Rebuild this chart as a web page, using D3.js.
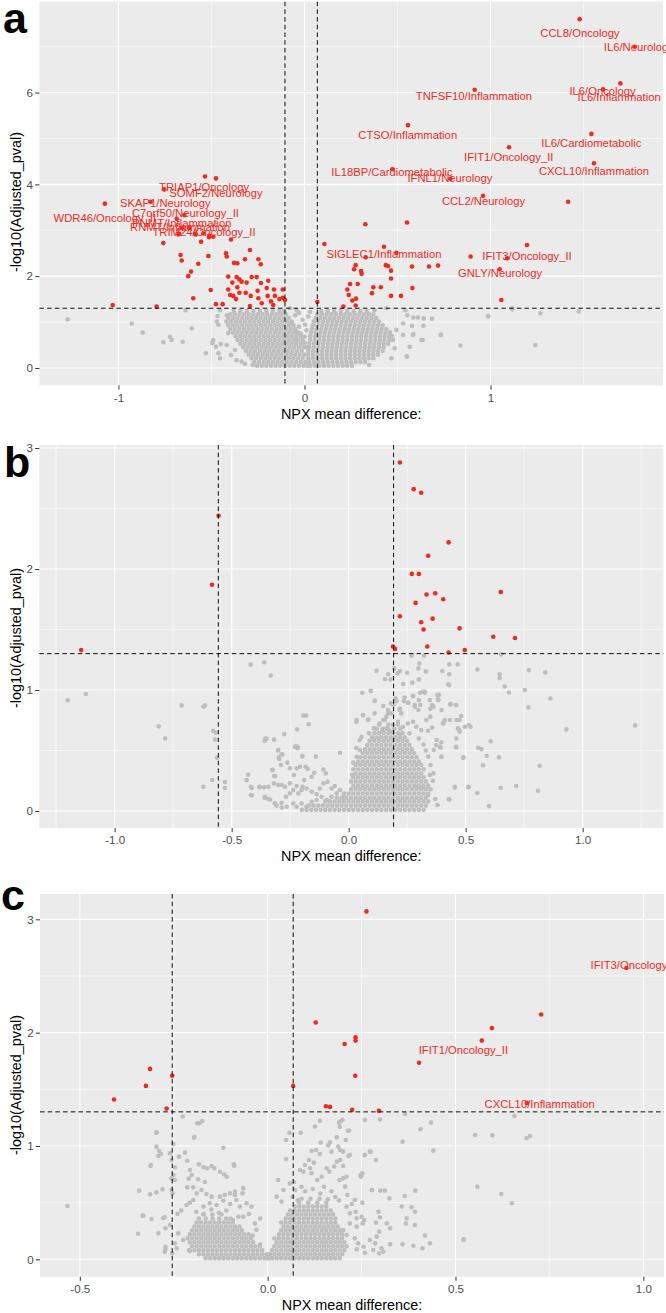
<!DOCTYPE html>
<html><head><meta charset="utf-8">
<script src="https://cdn.jsdelivr.net/npm/d3@7"></script>
<style>
body{margin:0;background:#fff}
svg{display:block}
text{font-family:"Liberation Sans",Arial,Helvetica,sans-serif}
</style></head>
<body><svg id="chart" width="666" height="1313"></svg>
<script>
// ---------------- DATA ----------------
const hThreshold = 1.301;
const vLinesA = [-0.105, 0.069];
const vLinesB = [-0.557, 0.192];
const vLinesC = [-0.254, 0.068];

const xTicksA = [-1, 0, 1], xTickLabelsA = ["-1", "0", "1"], xMinorA = [-0.5, 0.5, 1.5];
const yTicksA = [0, 2, 4, 6], yMinorA = [1, 3, 5, 7];
const xTicksB = [-1, -0.5, 0, 0.5, 1], xTickLabelsB = ["-1.0", "-0.5", "0.0", "0.5", "1.0"], xMinorB = [-1.25, -0.75, -0.25, 0.25, 0.75, 1.25];
const yTicksB = [0, 1, 2, 3], yMinorB = [0.5, 1.5, 2.5];
const xTicksC = [-0.5, 0, 0.5, 1], xTickLabelsC = ["-0.5", "0.0", "0.5", "1.0"], xMinorC = [-0.25, 0.25, 0.75];
const yTicksC = [0, 1, 2, 3], yMinorC = [0.5, 1.5, 2.5];

const xTitle = "NPX mean difference:";
const yTitle = "-log10(Adjusted_pval)";

// Panel a: significant (red) points [x, y]
const redA = [
[1.479,7.60],[1.775,7.0],[1.698,6.20],[1.605,6.07],[0.915,6.06],[0.556,5.29],[1.542,5.10],[1.099,4.81],[1.556,4.46],[0.472,4.33],[0.784,4.12],[0.96,3.75],[1.417,3.62],
[0.551,3.17],[0.327,3.13],[1.196,2.68],[0.427,2.64],[0.494,2.51],[0.329,2.41],[0.893,2.43],[1.089,2.39],[1.049,2.15],[1.058,1.48],[0.578,2.21],[0.669,2.21],[0.718,2.23],
[0.107,2.70],[0.275,2.24],[0.266,2.15],[0.304,2.11],[0.307,2.05],[0.437,2.24],[0.449,2.22],[0.465,2.12],[0.465,1.95],[0.245,1.83],[0.23,1.71],[0.286,1.83],[0.238,1.59],
[0.257,1.47],[0.277,1.51],[0.275,1.36],[0.209,1.34],[0.069,1.44],[0.37,1.76],[0.363,1.63],[0.41,1.76],[0.465,1.57],[0.519,1.57],[0.58,1.74],
[-0.535,4.17],[-0.476,4.13],[-0.754,3.89],[-1.073,3.58],[-0.827,3.62],[-0.687,3.25],[-0.646,3.33],[-0.759,2.72],[-0.675,2.93],[-0.589,2.93],[-0.544,2.93],[-0.556,2.75],
[-0.513,2.85],[-0.49,2.86],[-0.395,2.80],[-0.293,2.57],[-0.666,2.46],[-0.66,2.34],[-0.517,2.44],[-0.422,2.50],[-0.418,2.43],[-0.379,2.29],[-0.361,2.28],[-0.32,2.37],
[-0.248,2.37],[-0.235,2.26],[-0.571,2.27],[-0.61,2.10],[-0.625,2.0],[-0.41,1.99],[-0.365,1.98],[-0.35,1.93],[-0.338,1.88],[-0.311,1.86],[-0.284,1.98],[-0.257,1.98],
[-0.195,1.90],[-0.234,1.85],[-0.388,1.86],[-0.41,1.71],[-0.361,1.76],[-0.40,1.59],[-0.383,1.57],[-0.368,1.50],[-0.35,1.64],[-0.316,1.64],[-0.289,1.57],[-0.252,1.68],
[-0.203,1.74],[-0.164,1.71],[-0.117,1.71],[-0.248,1.52],[-0.198,1.57],[-0.159,1.57],[-0.135,1.50],[-0.117,1.53],[-0.105,1.48],[-0.18,1.45],[-0.23,1.41],[-0.168,1.37],
[-0.293,1.35],[-0.44,1.39],[-0.476,1.39],[-0.504,1.70],[-0.598,1.52],[-0.795,1.34],[-1.031,1.37],[-0.678,2.91],[-0.585,2.91],[-0.512,2.88],[-0.659,3.05],[-0.62,3.05]
];
// Panel a: grey scattered points
const greyA = [
[-1.273,1.06],[-0.929,0.97],[-0.87,0.77],[-0.759,0.56],[-0.714,0.61],[-0.723,0.68],[-0.655,0.57],[-0.639,1.26],[-0.606,0.86],[-0.53,0.32],[-0.49,0.61],[-0.463,0.32],
[-0.454,0.21],[-0.476,0.46],[-0.496,0.54],[-0.467,1.13],[-0.463,0.94],[-0.472,1.01],[-0.454,1.26],[-0.418,1.15],[-0.41,0.76],[-0.418,0.50],[-0.395,0.28],[-0.374,0.39],
[-0.338,0.14],[-0.32,0.09],[-0.279,0.065],[-0.365,0.17],[-0.45,0.52],
[0.987,1.13],[1.116,1.30],[1.268,1.19],[1.474,1.23],[0.838,0.49],[1.241,0.50],[0.732,0.72],[0.685,1.07],[0.628,0.61],[0.566,0.46],[0.551,0.25],[0.583,0.72],[0.578,0.92],
[0.61,1.10],[0.641,1.08],[0.53,0.97],[0.53,0.72],[0.494,0.83],[0.476,0.61],[0.485,0.43],[0.467,0.21],[0.347,0.065],[0.44,1.30],[0.377,1.26],[0.542,1.26],[0.553,1.15],
[0.585,1.10],[0.639,0.92],[0.734,0.72],[0.585,0.74],[0.635,0.61],[0.549,0.25],[0.988,1.12],[1.117,1.28],
[-0.078,1.30],[-0.042,1.26],[-0.069,0.99],[-0.042,0.79],[0.003,0.94],
[-0.04,0.62],[-0.02,0.75],[0.0,0.68],[0.01,0.82],[-0.03,0.90],[0.02,1.12],[-0.01,1.05],[0.0,0.55],[0.01,0.45],[-0.05,1.15],[0.03,1.22],[-0.03,1.20]
];
// Panel a: dense grey cloud, rows [y, [x...]]
const greyRowsA = [
[1.24,[-0.38,-0.345,-0.31,-0.275,-0.24,-0.205,-0.17,-0.135,-0.11]],
[1.17,[-0.40,-0.375,-0.35,-0.325,-0.30,-0.275,-0.25,-0.225,-0.20,-0.175,-0.15,-0.125,-0.10]],
[1.09,[-0.41,-0.385,-0.36,-0.335,-0.31,-0.285,-0.26,-0.235,-0.21,-0.185,-0.16,-0.135,-0.11,-0.085]],
[1.01,[-0.42,-0.395,-0.37,-0.345,-0.32,-0.295,-0.27,-0.245,-0.22,-0.195,-0.17,-0.145,-0.12,-0.095,-0.07]],
[0.93,[-0.41,-0.385,-0.36,-0.335,-0.31,-0.285,-0.26,-0.235,-0.21,-0.185,-0.16,-0.135,-0.11,-0.085,-0.06]],
[0.85,[-0.40,-0.375,-0.35,-0.325,-0.30,-0.275,-0.25,-0.225,-0.20,-0.175,-0.15,-0.125,-0.10,-0.075,-0.05]],
[0.77,[-0.385,-0.36,-0.335,-0.31,-0.285,-0.26,-0.235,-0.21,-0.185,-0.16,-0.135,-0.11,-0.085,-0.06,-0.035]],
[0.69,[-0.37,-0.345,-0.32,-0.295,-0.27,-0.245,-0.22,-0.195,-0.17,-0.145,-0.12,-0.095,-0.07,-0.045,-0.02]],
[0.61,[-0.36,-0.335,-0.31,-0.285,-0.26,-0.235,-0.21,-0.185,-0.16,-0.135,-0.11,-0.085,-0.06,-0.035,-0.01]],
[0.53,[-0.345,-0.32,-0.295,-0.27,-0.245,-0.22,-0.195,-0.17,-0.145,-0.12,-0.095,-0.07,-0.045,-0.02]],
[0.45,[-0.33,-0.305,-0.28,-0.255,-0.23,-0.205,-0.18,-0.155,-0.13,-0.105,-0.08,-0.055,-0.03,-0.005]],
[0.37,[-0.315,-0.29,-0.265,-0.24,-0.215,-0.19,-0.165,-0.14,-0.115,-0.09,-0.065,-0.04,-0.015]],
[0.29,[-0.30,-0.275,-0.25,-0.225,-0.20,-0.175,-0.15,-0.125,-0.10,-0.075,-0.05,-0.025,0.0]],
[0.21,[-0.285,-0.26,-0.235,-0.21,-0.185,-0.16,-0.135,-0.11,-0.085,-0.06,-0.035,-0.01]],
[0.13,[-0.27,-0.245,-0.22,-0.195,-0.17,-0.145,-0.12,-0.095,-0.07,-0.045,-0.02,0.005]],
[0.05,[-0.255,-0.23,-0.205,-0.18,-0.155,-0.13,-0.105,-0.08,-0.055,-0.03,-0.005,0.015]],
[1.24,[0.09,0.125,0.16,0.195,0.23,0.265,0.30,0.335]],
[1.17,[0.07,0.095,0.12,0.145,0.17,0.195,0.22,0.245,0.27,0.295,0.32,0.345,0.37]],
[1.09,[0.06,0.085,0.11,0.135,0.16,0.185,0.21,0.235,0.26,0.285,0.31,0.335,0.36,0.385]],
[1.01,[0.05,0.075,0.10,0.125,0.15,0.175,0.20,0.225,0.25,0.275,0.30,0.325,0.35,0.375,0.40]],
[0.93,[0.045,0.07,0.095,0.12,0.145,0.17,0.195,0.22,0.245,0.27,0.295,0.32,0.345,0.37,0.395,0.42]],
[0.85,[0.04,0.065,0.09,0.115,0.14,0.165,0.19,0.215,0.24,0.265,0.29,0.315,0.34,0.365,0.39,0.415,0.44]],
[0.77,[0.035,0.06,0.085,0.11,0.135,0.16,0.185,0.21,0.235,0.26,0.285,0.31,0.335,0.36,0.385,0.41,0.435,0.46]],
[0.69,[0.03,0.055,0.08,0.105,0.13,0.155,0.18,0.205,0.23,0.255,0.28,0.305,0.33,0.355,0.38,0.405,0.43,0.455,0.47]],
[0.61,[0.03,0.055,0.08,0.105,0.13,0.155,0.18,0.205,0.23,0.255,0.28,0.305,0.33,0.355,0.38,0.405,0.43,0.455,0.47]],
[0.53,[0.025,0.05,0.075,0.10,0.125,0.15,0.175,0.20,0.225,0.25,0.275,0.30,0.325,0.35,0.375,0.40,0.425,0.45]],
[0.45,[0.025,0.05,0.075,0.10,0.125,0.15,0.175,0.20,0.225,0.25,0.275,0.30,0.325,0.35,0.375,0.40,0.425]],
[0.37,[0.02,0.045,0.07,0.095,0.12,0.145,0.17,0.195,0.22,0.245,0.27,0.295,0.32,0.345,0.37,0.395,0.42]],
[0.29,[0.02,0.045,0.07,0.095,0.12,0.145,0.17,0.195,0.22,0.245,0.27,0.295,0.32,0.345,0.37,0.395]],
[0.21,[0.02,0.045,0.07,0.095,0.12,0.145,0.17,0.195,0.22,0.245,0.27,0.295,0.32,0.345,0.37]],
[0.13,[0.025,0.05,0.075,0.10,0.125,0.15,0.175,0.20,0.225,0.25,0.275,0.30,0.325]],
[0.05,[0.03,0.055,0.08,0.105,0.13,0.155,0.18,0.205,0.23,0.255]]
];
const labelsA = [
["TRIAP1/Oncology",-0.540,3.94],["SOMF2/Neurology",-0.476,3.82],["SKAP1/Neurology",-0.748,3.59],["C7orf50/Neurology_II",-0.640,3.37],
["WDR46/Oncology_II",-1.073,3.26],["PNMT/Inflammation",-0.659,3.17],["RNMT/Inflammation",-0.669,3.07],["TRIM24/Oncology_II",-0.540,2.96],
["CCL8/Oncology",1.481,7.31],["IL6/Neurology",1.797,7.0],["TNFSF10/Inflammation",0.911,5.93],["IL6/Oncology",1.602,6.04],["IL6/Inflammation",1.691,5.90],
["CTSO/Inflammation",0.555,5.08],["IL6/Cardiometabolic",1.542,4.91],["IFIT1/Oncology_II",1.098,4.60],["CXCL10/Inflammation",1.556,4.30],
["IL18BP/Cardiometabolic",0.470,4.26],["IFNL1/Neurology",0.782,4.15],["CCL2/Neurology",0.962,3.64],["SIGLEC1/Inflammation",0.427,2.49],
["IFIT3/Oncology_II",1.196,2.43],["GNLY/Neurology",1.051,2.06]
];

// Panel b
const redB = [
[-0.556,2.44],[-0.584,1.87],[-1.143,1.33],[0.219,2.88],[0.278,2.66],[0.310,2.63],[0.427,2.22],[0.340,2.11],[0.270,1.96],[0.300,1.96],[0.650,1.81],[0.370,1.80],
[0.333,1.79],[0.404,1.75],[0.286,1.72],[0.219,1.61],[0.359,1.59],[0.310,1.56],[0.320,1.50],[0.474,1.51],[0.618,1.44],[0.711,1.43],[0.336,1.36],[0.189,1.36],
[0.198,1.34],[0.496,1.33],[0.427,1.31]
];
const greyB = [
[-1.201,0.915],[-1.123,0.967],[-0.714,0.873],[-0.621,0.862],[-0.614,0.873],[-0.812,0.70],[-0.784,0.60],[-0.579,0.664],[-0.568,0.647],[-0.571,0.59],[-0.562,0.44],
[-0.583,0.256],[-0.621,0.20],[-0.529,0.24],[-0.529,0.19],[-0.419,1.21],[-0.361,1.23],[-0.333,1.12],[-0.194,0.79],[-0.182,0.79],[-0.171,0.717],[-0.22,0.675],
[-0.275,0.636],[-0.356,0.60],[-0.359,0.58],[-0.319,0.59],[-0.229,0.53],[-0.219,0.52],[-0.302,0.50],[-0.283,0.47],[-0.198,0.45],[-0.14,0.45],[-0.297,0.43],
[-0.326,0.34],[-0.318,0.29],[-0.429,0.30],[-0.436,0.256],[-0.414,0.19],[-0.382,0.196],[-0.361,0.196],[-0.414,0.13],[-0.359,0.11],[-0.344,0.10],[-0.315,0.064],[-0.286,0.03],
[-0.325,0.339],[-0.314,0.289],[-0.289,0.380],[-0.262,0.400],[-0.251,0.353],[-0.222,0.353],[-0.208,0.366],[-0.184,0.366],[-0.175,0.350],[-0.234,0.298],[-0.301,0.504],
[-0.287,0.468],[-0.298,0.444],[-0.351,0.598],[-0.225,0.537],[-0.217,0.526],[-0.198,0.455],[-0.037,0.482],[-0.108,0.344],[-0.098,0.311],[-0.147,0.317],[-0.158,0.284],
[-0.190,0.256],[-0.197,0.201],[-0.222,0.207],[-0.251,0.229],[-0.272,0.201],[-0.286,0.215],[-0.301,0.215],[-0.319,0.229],[-0.343,0.201],[-0.379,0.201],[-0.418,0.201],
[-0.436,0.256],[-0.418,0.132],[-0.358,0.118],[-0.336,0.096],[-0.315,0.063],[-0.287,0.069],[-0.268,0.118],[-0.251,0.146],[-0.237,0.174],[-0.215,0.146],[-0.201,0.174],
[-0.180,0.187],[-0.158,0.160],[-0.137,0.140],[-0.123,0.187],[-0.108,0.229],[-0.090,0.242],[-0.073,0.187],[-0.059,0.207],[-0.051,0.146],[-0.037,0.174],[-0.023,0.118],
[-0.222,0.036],[-0.201,0.063],[-0.180,0.036],[-0.158,0.077],[-0.137,0.091],[-0.116,0.118],[-0.094,0.091],[-0.073,0.118],[-0.265,0.036],[-0.237,0.063],[-0.308,0.044],
[0.119,1.16],[0.155,1.091],[0.179,1.088],[0.169,1.13],[0.209,1.138],[0.219,1.157],[0.195,1.179],[0.269,1.284],[0.322,1.284],[0.302,1.22],[0.298,1.179],[0.33,1.154],
[0.25,1.143],[0.233,1.05],[0.272,1.061],[0.30,1.088],[0.40,1.157],[0.43,1.212],[0.466,1.212],[0.43,1.13],[0.426,1.047],[0.058,0.978],[0.095,0.992],[0.112,0.912],
[0.148,0.868],[0.169,0.807],[0.181,0.89],[0.201,0.931],[0.219,0.848],[0.236,0.909],[0.255,0.895],[0.276,0.95],[0.283,0.862],[0.298,0.835],[0.305,0.978],[0.326,0.986],
[0.347,0.917],[0.362,0.862],[0.379,0.959],[0.383,0.917],[0.397,0.835],[0.411,0.752],[0.436,0.884],[0.458,0.876],[0.461,0.752],[0.473,0.669],[0.497,0.697],[0.515,0.711],
[0.433,0.752],[0.404,0.725],[0.376,0.587],[0.39,0.532],[0.397,0.449],[0.458,0.532],[0.49,0.444],[0.511,0.201],[0.454,0.201],[0.43,0.096],[0.362,0.311],[0.347,0.298],
[0.34,0.132],[0.312,0.187],[0.29,0.201],[0.034,0.752],[0.062,0.793],[0.084,0.758],[0.108,0.683],[0.148,0.752],[0.162,0.683],[0.048,0.504],[0.034,0.449],[0.055,0.614],
[0.652,1.295],[0.55,1.17],[0.645,1.13],[0.645,1.10],[0.77,1.165],[0.84,1.146],[0.667,1.03],[0.685,0.98],[0.753,1.0],[0.862,0.93],[0.768,0.857],[0.521,0.697],
[0.93,0.675],[1.224,0.708],[0.607,0.576],[0.553,0.523],[0.567,0.512],[0.59,0.457],[0.642,0.444],[0.574,0.378],[0.49,0.44],[0.816,0.374],[0.46,0.526],[0.453,0.193],
[0.513,0.198],[0.55,0.149],[0.65,0.193],[0.716,0.207],[0.809,0.168],[0.60,0.041],[0.427,0.097],[0.403,0.725],[0.434,0.88],[0.46,0.876],[0.481,0.785],[0.474,0.752],
[0.467,0.683],[0.474,0.655],[0.429,1.04],[0.385,0.96],[0.382,0.923],[0.357,0.876],[0.349,0.845],[0.349,0.78],[0.357,0.69],[0.339,0.664],[0.396,0.568],[0.393,0.523],
[0.374,0.545],[0.364,0.504],[0.396,0.449],[0.46,0.60],
[0.094,0.994],[0.111,0.912],[0.168,0.835],[0.182,0.807],[0.161,0.78],[0.192,0.88],[0.204,0.908],[0.218,0.835],[0.225,0.807],[0.239,0.939],[0.253,0.895],[0.275,0.95],
[0.282,0.876],[0.30,0.917],[0.306,0.876],[0.318,0.986],[0.325,0.978],[0.033,0.738],[0.061,0.793],[0.082,0.752],[0.087,0.642],[0.111,0.807],[0.132,0.724],[0.154,0.752],
[0.144,0.669],[0.164,0.683],[0.189,0.711],[0.211,0.738],[0.232,0.697],[0.253,0.724],[0.275,0.738],[0.26,0.642],[0.218,0.628],[0.182,0.656],[0.289,0.697],[0.31,0.669],
[0.332,0.752],[0.033,0.52],[0.047,0.587],[0.02,0.40],[0.015,0.30],[0.30,0.60],[0.32,0.55],[0.33,0.50],[0.34,0.45],[0.35,0.38],[0.36,0.25],[0.35,0.18],[0.37,0.10],[0.38,0.05]
];
const greyRowsB = [
[0.01,[-0.20,-0.18,-0.16,-0.14,-0.12,-0.10,-0.08,-0.06,-0.04,-0.02,0,0.02,0.04,0.06,0.08,0.10,0.12,0.14,0.16,0.18,0.20,0.22,0.24,0.26,0.28,0.30,0.32]],
[0.045,[-0.17,-0.15,-0.13,-0.11,-0.09,-0.07,-0.05,-0.03,-0.01,0.01,0.03,0.05,0.07,0.09,0.11,0.13,0.15,0.17,0.19,0.21,0.23,0.25,0.27,0.29,0.31,0.33]],
[0.08,[-0.10,-0.08,-0.06,-0.04,-0.02,0,0.02,0.04,0.06,0.08,0.10,0.12,0.14,0.16,0.18,0.20,0.22,0.24,0.26,0.28,0.30,0.32,0.34]],
[0.11,[-0.05,-0.03,-0.01,0.01,0.03,0.05,0.07,0.09,0.11,0.13,0.15,0.17,0.19,0.21,0.23,0.25,0.27,0.29,0.31,0.33]],
[0.145,[-0.02,0,0.02,0.04,0.06,0.08,0.10,0.12,0.14,0.16,0.18,0.20,0.22,0.24,0.26,0.28,0.30,0.32,0.34]],
[0.18,[0.01,0.03,0.05,0.07,0.09,0.11,0.13,0.15,0.17,0.19,0.21,0.23,0.25,0.27,0.29,0.31,0.33]],
[0.21,[0.02,0.04,0.06,0.08,0.10,0.12,0.14,0.16,0.18,0.20,0.22,0.24,0.26,0.28,0.30,0.32,0.34]],
[0.245,[0.01,0.03,0.05,0.07,0.09,0.11,0.13,0.15,0.17,0.19,0.21,0.23,0.25,0.27,0.29,0.31,0.33]],
[0.28,[0.02,0.04,0.06,0.08,0.10,0.12,0.14,0.16,0.18,0.20,0.22,0.24,0.26,0.28,0.30,0.32]],
[0.31,[0.03,0.05,0.07,0.09,0.11,0.13,0.15,0.17,0.19,0.21,0.23,0.25,0.27,0.29,0.31]],
[0.345,[0.02,0.04,0.06,0.08,0.10,0.12,0.14,0.16,0.18,0.20,0.22,0.24,0.26,0.28,0.30,0.32]],
[0.38,[0.03,0.05,0.07,0.09,0.11,0.13,0.15,0.17,0.19,0.21,0.23,0.25,0.27,0.29,0.31]],
[0.41,[0.04,0.06,0.08,0.10,0.12,0.14,0.16,0.18,0.20,0.22,0.24,0.26,0.28,0.30]],
[0.445,[0.05,0.07,0.09,0.11,0.13,0.15,0.17,0.19,0.21,0.23,0.25,0.27,0.29]],
[0.48,[0.06,0.08,0.10,0.12,0.14,0.16,0.18,0.20,0.22,0.24,0.26,0.28]],
[0.51,[0.07,0.09,0.11,0.13,0.15,0.17,0.19,0.21,0.23,0.25,0.27]],
[0.545,[0.08,0.10,0.12,0.14,0.16,0.18,0.20,0.22,0.24,0.26]],
[0.58,[0.09,0.11,0.13,0.15,0.17,0.19,0.21,0.23,0.25]],
[0.61,[0.10,0.12,0.14,0.16,0.18,0.20,0.22,0.24]],
[0.645,[0.11,0.13,0.15,0.17,0.19,0.21,0.23]],
[0.68,[0.12,0.145,0.17,0.195,0.22]],
[0.715,[0.13,0.17,0.21]]
];

// Panel c
const redC = [
[0.263,3.07],[0.955,2.57],[0.728,2.16],[0.597,2.04],[0.570,1.93],[0.403,1.735],[0.205,1.90],[0.234,1.96],[0.234,1.93],[0.233,1.62],[0.225,1.32],[0.296,1.31],
[0.690,1.38],[0.128,2.09],[0.068,1.53],[0.155,1.35],[0.166,1.345],[-0.313,1.68],[-0.324,1.53],[-0.254,1.62],[-0.409,1.41],[-0.269,1.33]
];
const greyC = [
[-0.533,0.47],[-0.342,0.606],[-0.331,0.385],[-0.345,0.226],[-0.309,0.356],[-0.278,0.365],[-0.296,1.117],[-0.296,0.994],[-0.289,0.956],[-0.284,0.929],[-0.311,0.832],
[-0.226,1.26],[-0.182,1.20],[-0.174,1.22],[-0.195,1.079],[-0.118,0.985],[-0.09,0.838],[-0.272,0.273],[-0.272,0.11],[-0.272,0.087],[-0.209,0.081],
[-0.251,1.018],[-0.291,0.912],[-0.26,0.935],[-0.256,0.876],[-0.236,0.906],[-0.22,0.941],[-0.214,0.870],[-0.183,0.838],[-0.171,0.812],[-0.161,0.803],[-0.149,0.823],
[-0.142,0.803],[-0.207,0.788],[-0.202,0.744],[-0.21,0.712],[-0.247,0.812],[-0.251,0.744],[-0.247,0.70],[-0.185,0.706],[-0.167,0.682],[-0.127,0.773],[-0.116,0.75],
[-0.109,0.729],[-0.214,0.635],[-0.198,0.635],[-0.312,0.823],[-0.313,0.573],[-0.296,0.591],[-0.28,0.617],[-0.256,0.714],[-0.256,0.612],[-0.253,0.582],[-0.189,0.582],
[-0.176,0.612],[-0.163,0.576],[-0.149,0.553],[-0.127,0.553],[-0.114,0.567],[-0.10,0.582],[-0.087,0.597],[-0.065,0.626],[-0.067,0.582],[-0.216,0.479],[-0.207,0.5],
[-0.198,0.523],[-0.171,0.465],[-0.154,0.494],[-0.136,0.479],[-0.118,0.517],[-0.10,0.488],[-0.087,0.567],[-0.083,0.523],[-0.074,0.465],[-0.056,0.494],[-0.043,0.465],
[-0.034,0.317],[-0.065,0.376],[-0.078,0.376],[-0.092,0.347],[-0.333,0.385],[-0.274,0.37],[-0.291,0.229],[-0.274,0.067],[-0.254,0.053],[-0.242,0.097],[-0.207,0.073],
[-0.26,0.303],[-0.238,0.229],[-0.247,0.141],[-0.225,0.17],[-0.24,0.40],[-0.23,0.43],[-0.19,0.42],[-0.17,0.40],[-0.15,0.44],[-0.13,0.41],[-0.11,0.43],[-0.05,0.40],
[-0.02,0.36],[-0.03,0.26],[-0.04,0.21],[-0.02,0.13],[-0.296,1.12],[-0.196,1.073],[-0.187,1.20],[-0.089,0.826],
[0.058,1.117],[0.049,1.053],[0.088,1.117],[0.126,1.171],[0.139,1.223],[0.193,1.215],[0.199,1.23],[0.259,1.23],[0.299,1.235],[0.366,1.282],[0.407,1.147],[0.435,1.206],
[0.552,1.097],[0.359,1.038],[0.441,0.959],[0.558,0.641],[0.141,1.03],[0.166,1.032],[0.184,1.076],[0.208,1.053],[0.217,1.135],[0.188,0.994],[0.193,0.965],[0.201,0.95],
[0.215,0.912],[0.219,0.921],[0.117,0.956],[0.129,0.965],[0.139,0.929],[0.161,1.006],[0.17,0.95],[0.049,0.885],[0.11,0.876],[0.123,0.853],[0.099,0.832],[0.086,0.788],
[0.095,0.774],[0.113,0.803],[0.117,0.759],[0.132,0.70],[0.144,0.729],[0.157,0.803],[0.164,0.774],[0.184,0.862],[0.193,0.876],[0.177,0.818],[0.201,0.824],[0.21,0.729],
[0.201,0.714],[0.191,0.70],[0.259,0.921],[0.272,0.95],[0.288,0.876],[0.248,0.729],[0.25,0.744],[0.277,0.612],[0.30,0.606],[0.324,0.538],[0.365,0.559],[0.393,0.606],
[0.206,0.641],[0.212,0.567],[0.232,0.523],[0.252,0.50],[0.224,0.488],[0.21,0.465],[0.219,0.406],[0.234,0.42],[0.237,0.362],[0.25,0.376],[0.257,0.347],[0.253,0.317],
[0.237,0.288],[0.219,0.317],[0.232,0.185],[0.21,0.214],[0.201,0.259],[0.295,0.42],[0.299,0.37],[0.288,0.323],[0.317,0.317],[0.326,0.273],[0.297,0.244],[0.29,0.20],
[0.272,0.17],[0.286,0.141],[0.303,0.097],[0.308,0.067],[0.297,0.053],[0.281,0.082],[0.255,0.111],[0.241,0.141],[0.237,0.088],[0.259,0.058],[0.357,0.465],[0.383,0.459],
[0.392,0.42],[0.37,0.362],[0.368,0.317],[0.392,0.303],[0.359,0.132],[0.388,0.12],[0.412,0.097],[0.432,0.141],[0.419,0.209],[0.521,0.17],[0.326,0.132],[0.657,1.265],
[0.598,1.094],[0.689,1.068],[0.698,1.088],[0.622,0.576],[0.65,0.494],[0.522,0.176],[0.278,0.612],[0.312,0.606],[0.258,0.92],[0.274,0.95],[0.192,1.17],[0.19,1.206],
[0.214,1.135],[0.247,0.744],[0.252,0.759],[0.028,0.70],[0.042,0.612],[0.059,0.67],[0.073,0.612],[0.024,0.553],[0.037,0.509],[0.066,0.55],[0.08,0.52],[0.07,0.68],
[0.09,0.64],[0.10,0.60],[0.12,0.62],[0.14,0.58],[0.15,0.64],[0.17,0.60],[0.18,0.55],[0.16,0.53],[0.19,0.52]
];
const greyRowsC = [
[0.01,[-0.165,-0.153,-0.141,-0.129,-0.117,-0.105,-0.093,-0.081,-0.069,-0.057,-0.045,-0.033,-0.021,-0.009,0.003]],
[0.045,[-0.183,-0.171,-0.159,-0.147,-0.135,-0.123,-0.111,-0.099,-0.087,-0.075,-0.063,-0.051,-0.039,-0.027,-0.015,-0.003]],
[0.08,[-0.195,-0.183,-0.171,-0.159,-0.147,-0.135,-0.123,-0.111,-0.099,-0.087,-0.075,-0.063,-0.051,-0.039,-0.027,-0.015]],
[0.115,[-0.201,-0.189,-0.177,-0.165,-0.153,-0.141,-0.129,-0.117,-0.105,-0.093,-0.081,-0.069,-0.057,-0.045,-0.033,-0.021]],
[0.15,[-0.207,-0.195,-0.183,-0.171,-0.159,-0.147,-0.135,-0.123,-0.111,-0.099,-0.087,-0.075,-0.063,-0.051,-0.039]],
[0.185,[-0.213,-0.201,-0.189,-0.177,-0.165,-0.153,-0.141,-0.129,-0.117,-0.105,-0.093,-0.081,-0.069,-0.057,-0.045]],
[0.22,[-0.207,-0.195,-0.183,-0.171,-0.159,-0.147,-0.135,-0.123,-0.111,-0.099,-0.087,-0.075,-0.063,-0.051]],
[0.255,[-0.201,-0.189,-0.177,-0.165,-0.153,-0.141,-0.129,-0.117,-0.105,-0.093,-0.081,-0.069]],
[0.29,[-0.195,-0.183,-0.171,-0.159,-0.147,-0.135,-0.123,-0.111,-0.099,-0.087,-0.075]],
[0.325,[-0.189,-0.177,-0.165,-0.153,-0.141,-0.129,-0.117,-0.105,-0.093]],
[0.36,[-0.183,-0.165,-0.147,-0.129,-0.111,-0.099]],
[0.395,[-0.171,-0.147,-0.123]],
[0.01,[0,0.012,0.024,0.036,0.048,0.06,0.072,0.084,0.096,0.108,0.12,0.132,0.144,0.156,0.168,0.18,0.192]],
[0.045,[0.006,0.018,0.03,0.042,0.054,0.066,0.078,0.09,0.102,0.114,0.126,0.138,0.15,0.162,0.174,0.186,0.198]],
[0.08,[0.012,0.024,0.036,0.048,0.06,0.072,0.084,0.096,0.108,0.12,0.132,0.144,0.156,0.168,0.18,0.192,0.204]],
[0.115,[0.018,0.03,0.042,0.054,0.066,0.078,0.09,0.102,0.114,0.126,0.138,0.15,0.162,0.174,0.186,0.198,0.21]],
[0.15,[0.024,0.036,0.048,0.06,0.072,0.084,0.096,0.108,0.12,0.132,0.144,0.156,0.168,0.18,0.192,0.204]],
[0.185,[0.018,0.03,0.042,0.054,0.066,0.078,0.09,0.102,0.114,0.126,0.138,0.15,0.162,0.174,0.186,0.198]],
[0.22,[0.03,0.042,0.054,0.066,0.078,0.09,0.102,0.114,0.126,0.138,0.15,0.162,0.174,0.186,0.198]],
[0.255,[0.036,0.048,0.06,0.072,0.084,0.096,0.108,0.12,0.132,0.144,0.156,0.168,0.18,0.192]],
[0.29,[0.042,0.054,0.066,0.078,0.09,0.102,0.114,0.126,0.138,0.15,0.162,0.174,0.186]],
[0.325,[0.036,0.048,0.06,0.072,0.084,0.096,0.108,0.12,0.132,0.144,0.156,0.168,0.18]],
[0.36,[0.048,0.06,0.072,0.084,0.096,0.108,0.12,0.132,0.144,0.156,0.168,0.18]],
[0.395,[0.054,0.066,0.078,0.09,0.102,0.114,0.126,0.138,0.15,0.162,0.174]],
[0.43,[0.06,0.072,0.084,0.096,0.108,0.12,0.132,0.144,0.156,0.168]],
[0.465,[0.072,0.084,0.096,0.108,0.12,0.132,0.144,0.156]],
[0.50,[0.084,0.108,0.132,0.156]],
[0.535,[0.09,0.114,0.138]]
];
const labelsC = [["IFIT3/Oncology",0.962,2.60],["IFIT1/Oncology_II",0.521,1.845],["CXCL10/Inflammation",0.724,1.368]];

// ---------------- LAYOUT ----------------
const panelSpecs = [
 {letter:"a", letterX:3, letterY:33, left:39.4, right:663, top:1.7, bottom:385.4, xDomain:[-1.425,1.927], yDomain:[-0.38,7.98],
  xTicks:xTicksA, xLabels:xTickLabelsA, xMinor:xMinorA, yTicks:yTicksA, yMinor:yMinorA, vLines:vLinesA,
  grey:greyA, rows:greyRowsA, red:redA, labels:labelsA, yTitleY:202},
 {letter:"b", letterX:4, letterY:477, left:39.3, right:663.4, top:445, bottom:828, xDomain:[-1.322,1.345], yDomain:[-0.14,3.025],
  xTicks:xTicksB, xLabels:xTickLabelsB, xMinor:xMinorB, yTicks:yTicksB, yMinor:yMinorB, vLines:vLinesB,
  grey:greyB, rows:greyRowsB, red:redB, labels:[], yTitleY:638},
 {letter:"c", letterX:1, letterY:910, left:40, right:664, top:894, bottom:1276.7, xDomain:[-0.606,1.055], yDomain:[-0.1535,3.2235],
  xTicks:xTicksC, xLabels:xTickLabelsC, xMinor:xMinorC, yTicks:yTicksC, yMinor:yMinorC, vLines:vLinesC,
  grey:greyC, rows:greyRowsC, red:redC, labels:labelsC, yTitleY:1085}
];

const RED = "#EF2B1D", GREY = "#BEBEBE", R = 2.3;
const svg = d3.select("#chart");
svg.append("rect").attr("width",666).attr("height",1313).attr("fill","#fff");

function rowsToPoints(rows){ const out=[]; rows.forEach(r=>r[1].forEach(x=>out.push([x,r[0]]))); return out; }

panelSpecs.forEach((p,i)=>{
  const x = d3.scaleLinear().domain(p.xDomain).range([p.left,p.right]);
  const y = d3.scaleLinear().domain(p.yDomain).range([p.bottom,p.top]);
  const g = svg.append("g");
  const clipId = "clip"+i;
  g.append("clipPath").attr("id",clipId).append("rect")
    .attr("x",p.left).attr("y",p.top).attr("width",p.right-p.left).attr("height",p.bottom-p.top);

  g.append("rect").attr("x",p.left).attr("y",p.top).attr("width",p.right-p.left).attr("height",p.bottom-p.top).attr("fill","#EBEBEB");

  // grids
  const grid = g.append("g");
  grid.selectAll(".xm").data(p.xMinor).join("line").attr("class","xm").attr("x1",d=>x(d)).attr("x2",d=>x(d)).attr("y1",p.top).attr("y2",p.bottom).attr("stroke","#fff").attr("stroke-width",0.55);
  grid.selectAll(".ym").data(p.yMinor).join("line").attr("class","ym").attr("y1",d=>y(d)).attr("y2",d=>y(d)).attr("x1",p.left).attr("x2",p.right).attr("stroke","#fff").attr("stroke-width",0.55);
  grid.selectAll(".xM").data(p.xTicks).join("line").attr("class","xM").attr("x1",d=>x(d)).attr("x2",d=>x(d)).attr("y1",p.top).attr("y2",p.bottom).attr("stroke","#fff").attr("stroke-width",1.1);
  grid.selectAll(".yM").data(p.yTicks).join("line").attr("class","yM").attr("y1",d=>y(d)).attr("y2",d=>y(d)).attr("x1",p.left).attr("x2",p.right).attr("stroke","#fff").attr("stroke-width",1.1);

  const pts = g.append("g").attr("clip-path",`url(#${clipId})`);
  const greyAll = rowsToPoints(p.rows).concat(p.grey);
  pts.selectAll(".g").data(greyAll).join("circle").attr("class","g")
    .attr("cx",d=>x(d[0])).attr("cy",d=>y(d[1])).attr("r",R).attr("fill",GREY);
  pts.selectAll(".r").data(p.red).join("circle").attr("class","r")
    .attr("cx",d=>x(d[0])).attr("cy",d=>y(d[1])).attr("r",R).attr("fill",RED);

  // dashed threshold lines
  const dl = g.append("g").attr("stroke","#000").attr("stroke-width",0.95).attr("stroke-dasharray","4.5,3.2").attr("fill","none");
  dl.append("line").attr("x1",p.left).attr("x2",p.right).attr("y1",y(hThreshold)).attr("y2",y(hThreshold));
  dl.selectAll(".v").data(p.vLines).join("line").attr("class","v").attr("x1",d=>x(d)).attr("x2",d=>x(d)).attr("y1",p.top).attr("y2",p.bottom);

  // labels
  g.append("g").selectAll("text").data(p.labels).join("text")
    .attr("x",d=>x(d[1])).attr("y",d=>y(d[2])).attr("dy","0.36em")
    .attr("text-anchor","middle").attr("font-size","11.25px").attr("fill",RED).text(d=>d[0]);

  // axes
  const xa = g.append("g").attr("transform",`translate(0,${p.bottom})`)
    .call(d3.axisBottom(x).tickValues(p.xTicks).tickFormat((d,k)=>p.xLabels[k]).tickSize(4.2).tickPadding(3.8).tickSizeOuter(0));
  const ya = g.append("g").attr("transform",`translate(${p.left},0)`)
    .call(d3.axisLeft(y).tickValues(p.yTicks).tickFormat(d3.format("d")).tickSize(4.2).tickPadding(2.2).tickSizeOuter(0));
  [xa,ya].forEach(a=>{
    a.select(".domain").remove();
    a.selectAll(".tick line").attr("stroke","#333333").attr("stroke-width",1);
    a.selectAll(".tick text").attr("fill","#4D4D4D").attr("font-size","11.6px").attr("font-family","'Liberation Sans',Arial,sans-serif");
  });

  // titles
  g.append("text").attr("x",(p.left+p.right)/2).attr("y",p.bottom+28).attr("dy","0.36em")
    .attr("text-anchor","middle").attr("font-size","14.4px").attr("fill","#000").text(xTitle);
  g.append("text").attr("transform",`translate(16,${p.yTitleY}) rotate(-90)`).attr("dy","0.36em")
    .attr("text-anchor","middle").attr("font-size","14.4px").attr("fill","#000").text(yTitle);

  // panel letter
  g.append("text").attr("x",p.letterX).attr("y",p.letterY).attr("font-size","43px").attr("font-weight","bold")
    .attr("fill","#000").text(p.letter);
});
</script>
</body></html>
